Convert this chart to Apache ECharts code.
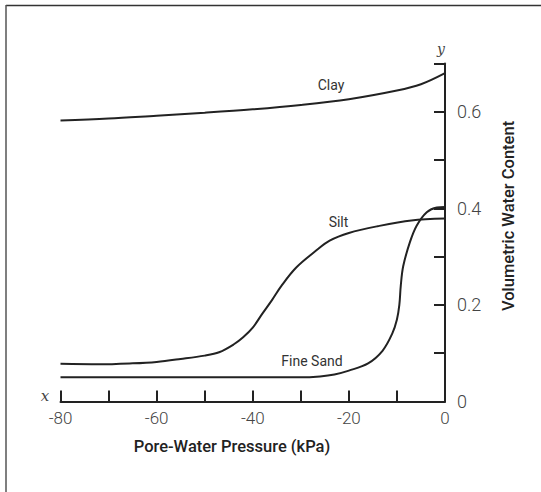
<!DOCTYPE html>
<html>
<head>
<meta charset="utf-8">
<script src="https://cdn.jsdelivr.net/npm/echarts@6/dist/echarts.min.js"></script>
<style>
  html, body { margin: 0; padding: 0; background: #fff; }
  #chart { width: 541px; height: 492px; }
</style>
</head>
<body>
<div id="chart"></div>
<script>
// pore-water pressure (kPa) vs volumetric water content
const clayX = [-80, -70, -60, -50, -40, -30, -20, -10, -5, 0]
const clayY = [0.582, 0.586, 0.592, 0.598, 0.605, 0.614, 0.626, 0.644, 0.657, 0.68]

const siltX = [-80, -72, -65, -60, -55, -50, -47, -44, -42, -40, -38, -36, -34, -31, -27, -24, -20, -14, -7, 0]
const siltY = [0.078, 0.077, 0.079, 0.082, 0.088, 0.095, 0.102, 0.118, 0.133, 0.153, 0.182, 0.21, 0.24, 0.277, 0.311, 0.333, 0.349, 0.363, 0.375, 0.379]

const sandX = [-80, -50, -30, -26, -23, -20, -16, -13, -11, -10, -9.5, -9.2, -8.7, -7.3, -5.9, -3.8, -1.7, 0]
const sandY = [0.05, 0.05, 0.05, 0.052, 0.056, 0.064, 0.079, 0.105, 0.14, 0.17, 0.2, 0.24, 0.28, 0.33, 0.364, 0.392, 0.402, 0.403]

const xTickLabels = ['-80', '-60', '-40', '-20', '0']
const yTickLabels = ['0', '0.2', '0.4', '0.6']

const zip = (xs, ys) => xs.map((x, i) => [x, ys[i]])

const ink = '#222'
const labelFont = "'Roboto', 'Noto Sans', sans-serif"

const chart = echarts.init(document.getElementById('chart'), null, { renderer: 'svg' })

const lineSeries = (name, data) => ({
  name,
  type: 'line',
  data,
  showSymbol: false,
  smooth: 0.35,
  silent: true,
  lineStyle: { color: ink, width: 2 }
})

chart.setOption({
  animation: false,
  grid: {
    left: 60.5,
    right: 96,
    top: 63.5,
    bottom: 90.5
  },
  xAxis: {
    type: 'value',
    min: -80,
    max: 0,
    interval: 10,
    splitLine: { show: false },
    axisLine: { onZero: false, lineStyle: { color: ink, width: 2 } },
    axisTick: { inside: true, length: 11, lineStyle: { color: ink, width: 2 } },
    axisLabel: {
      color: '#444',
      fontSize: 17,
      fontWeight: 300,
      fontFamily: labelFont,
      margin: 8,
      formatter: v => xTickLabels.includes(String(v)) ? String(v) : ''
    }
  },
  yAxis: {
    type: 'value',
    position: 'right',
    min: 0,
    max: 0.7,
    interval: 0.1,
    splitLine: { show: false },
    axisLine: { show: true, lineStyle: { color: ink, width: 2 } },
    axisTick: { show: true, inside: true, length: 11, lineStyle: { color: ink, width: 2 } },
    axisLabel: {
      color: '#444',
      fontSize: 18,
      fontWeight: 300,
      fontFamily: labelFont,
      margin: 12,
      formatter: v => {
        const s = String(Math.round(v * 10) / 10)
        return yTickLabels.includes(s) ? s : ''
      }
    }
  },
  series: [
    lineSeries('Clay', zip(clayX, clayY)),
    lineSeries('Silt', zip(siltX, siltY)),
    lineSeries('Fine Sand', zip(sandX, sandY))
  ],
  graphic: [
    // frame (top and left edges only are visible)
    { type: 'line', shape: { x1: 6, y1: 5.5, x2: 541, y2: 5.5 }, style: { stroke: '#333', lineWidth: 1.5 } },
    { type: 'line', shape: { x1: 6, y1: 5, x2: 6, y2: 492 }, style: { stroke: '#555', lineWidth: 1.5 } },
    // axis names
    {
      type: 'text', x: 232, y: 446,
      style: { text: 'Pore-Water Pressure (kPa)', fill: '#222', font: "500 16.5px 'Roboto', sans-serif", align: 'center', verticalAlign: 'middle' }
    },
    {
      type: 'text', x: 508, y: 216, rotation: Math.PI / 2,
      style: { text: 'Volumetric Water Content', fill: '#222', font: "500 16.5px 'Roboto', sans-serif", align: 'center', verticalAlign: 'middle' }
    },
    // axis letters
    { type: 'text', x: 45, y: 396, style: { text: 'x', fill: '#444', font: "italic 15px 'DejaVu Serif', serif", align: 'center', verticalAlign: 'middle' } },
    { type: 'text', x: 441, y: 49, style: { text: 'y', fill: '#444', font: "italic 14px 'DejaVu Serif', serif", align: 'center', verticalAlign: 'middle' } },
    // curve labels
    { type: 'text', x: 331, y: 85, style: { text: 'Clay', fill: '#333', font: "14px 'Roboto', sans-serif", align: 'center', verticalAlign: 'middle' } },
    { type: 'text', x: 338.5, y: 222, style: { text: 'Silt', fill: '#333', font: "14px 'Roboto', sans-serif", align: 'center', verticalAlign: 'middle' } },
    { type: 'text', x: 312, y: 361, style: { text: 'Fine Sand', fill: '#333', font: "14px 'Roboto', sans-serif", align: 'center', verticalAlign: 'middle' } }
  ]
})

window.addEventListener('resize', () => chart.resize())
</script>
</body>
</html>
